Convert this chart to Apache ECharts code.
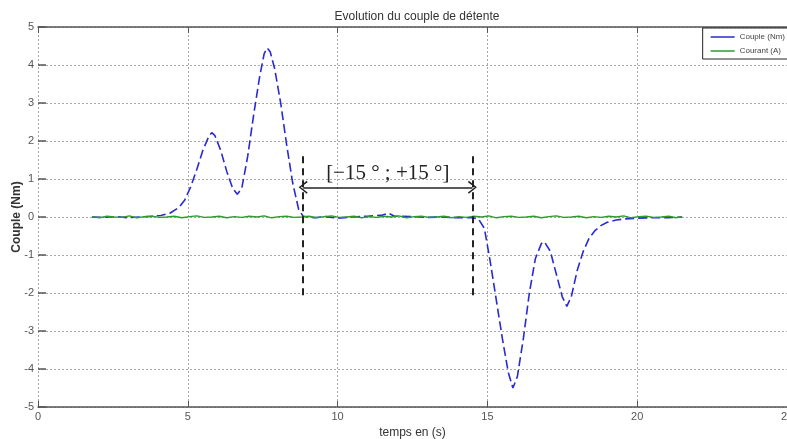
<!DOCTYPE html>
<html lang="fr">
<head>
    <meta charset="UTF-8">
    <title>Evolution du couple de détente</title>
    <script src="https://cdn.jsdelivr.net/npm/echarts@6.0.0/dist/echarts.min.js"></script>
    <style type="text/css">
        html, body { margin: 0; padding: 0; background: #fff; }
        #chart { width: 787px; height: 439px; }
    </style>
</head>
<body>
<div id="chart"></div>
<script type="text/javascript">
    // axes
    var xTicks = [0, 5, 10, 15, 20, 25];
    var yTicks = [-5, -4, -3, -2, -1, 0, 1, 2, 3, 4, 5];

    // couple (Nm)
    var coupleTime = [1.8, 2.2, 2.6, 3.0, 3.4, 3.8, 4.1, 4.4, 4.7, 4.9, 5.1, 5.3, 5.5, 5.7, 5.8, 5.9, 6.1, 6.3, 6.5, 6.65,
        6.8, 7.0, 7.2, 7.4, 7.55, 7.65, 7.75, 7.9, 8.1, 8.3, 8.5, 8.7, 8.85, 9.2, 9.6, 10.0, 10.5, 11.0, 11.5, 11.7,
        11.9, 12.5, 13.0, 13.5, 14.0, 14.5, 14.7, 14.9, 15.1, 15.3, 15.5, 15.7, 15.85, 16.0, 16.2, 16.4, 16.6, 16.8, 16.9, 17.1,
        17.3, 17.5, 17.65, 17.8, 18.0, 18.2, 18.4, 18.6, 18.8, 19.0, 19.3, 19.6, 20.0, 20.5, 21.0, 21.5];
    var coupleValues = [0.00, -0.01, 0.01, -0.02, 0.00, 0.02, 0.04, 0.10, 0.25, 0.45, 0.80, 1.25, 1.75, 2.12, 2.22, 2.15, 1.75, 1.20, 0.75, 0.60,
        0.75, 1.60, 2.70, 3.70, 4.30, 4.45, 4.35, 3.90, 3.00, 1.90, 0.90, 0.20, 0.02, -0.02, 0.01, -0.03, 0.00, 0.02, 0.05, 0.10,
        0.02, 0.01, -0.01, 0.00, -0.02, -0.02, -0.05, -0.30, -1.20, -2.20, -3.20, -4.10, -4.50, -4.20, -3.20, -2.00, -1.10, -0.70, -0.65, -0.90,
        -1.50, -2.10, -2.35, -2.10, -1.40, -0.90, -0.55, -0.35, -0.22, -0.14, -0.08, -0.05, -0.03, -0.02, -0.02, 0.00];

    // courant (A)
    var courantTime = [1.8, 2.05, 2.3, 2.55, 2.8, 3.05, 3.3, 3.55, 3.8, 4.05, 4.3, 4.55, 4.8, 5.05, 5.3, 5.55, 5.8, 6.05, 6.3, 6.55,
        6.8, 7.05, 7.3, 7.55, 7.8, 8.05, 8.3, 8.55, 8.8, 9.05, 9.3, 9.55, 9.8, 10.05, 10.3, 10.55, 10.8, 11.05, 11.3, 11.55,
        11.8, 12.05, 12.3, 12.55, 12.8, 13.05, 13.3, 13.55, 13.8, 14.05, 14.3, 14.55, 14.8, 15.05, 15.3, 15.55, 15.8, 16.05, 16.3, 16.55,
        16.8, 17.05, 17.3, 17.55, 17.8, 18.05, 18.3, 18.55, 18.8, 19.05, 19.3, 19.55, 19.8, 20.05, 20.3, 20.55, 20.8, 21.05, 21.3, 21.5];
    var courantValues = [0.01, -0.02, 0.02, 0.00, -0.01, 0.03, -0.02, 0.01, 0.02, -0.01,
        0.00, 0.02, -0.02, 0.01, 0.03, -0.01, 0.00, 0.02, -0.02, 0.01,
        -0.01, 0.02, 0.00, 0.03, -0.02, 0.01, 0.02, -0.01, 0.00, 0.02,
        -0.02, 0.01, 0.03, -0.01, 0.00, 0.02, -0.02, 0.01, -0.01, 0.02,
        0.00, 0.03, -0.02, 0.01, 0.02, -0.01, 0.00, 0.02, -0.02, 0.01,
        -0.01, 0.02, 0.00, 0.03, -0.02, 0.01, 0.02, -0.01, 0.00, 0.02,
        -0.02, 0.01, 0.03, -0.01, 0.00, 0.02, -0.02, 0.01, -0.01, 0.02,
        0.00, 0.03, -0.02, 0.01, 0.02, -0.01, 0.00, 0.02, -0.02, 0.01];

    // annotation: interval [-15° ; +15°]
    var boundTimes = [8.85, 14.5];
    var boundSpan = [1.6, -2.15];
    var arrowLevel = 0.78;
    var arrowLabel = '[\u221215 \u00b0 ; +15 \u00b0]';

    function pairs(xs, ys) {
        var out = [];
        for (var i = 0; i < xs.length; i++) out.push([xs[i], ys[i]]);
        return out;
    }

    var gridLine = { show: true, lineStyle: { color: '#a8a8a8', width: 1, type: [2, 2] } };
    var chevron = 'path://M5,0 L10,9 L9,10 L5,2.4 L1,10 L0,9 Z';
    var boundStyle = { color: '#222', width: 2, type: [7, 5] };

    var myChart = echarts.init(document.getElementById('chart'));
    var option = {
        animation: false,
        backgroundColor: '#fff',
        textStyle: { fontFamily: 'Liberation Sans, Arial, sans-serif' },
        title: {
            text: 'Evolution du couple de détente',
            left: 412,
            textAlign: 'center',
            top: 6,
            textStyle: { fontSize: 12, fontWeight: 'normal', color: '#333' }
        },
        legend: {
            orient: 'vertical',
            right: -2,
            top: 28,
            icon: 'rect',
            itemWidth: 24,
            itemHeight: 1.5,
            itemGap: 6,
            padding: [5, 4, 4, 8],
            backgroundColor: '#fff',
            borderColor: '#222',
            borderWidth: 1,
            borderRadius: 0,
            textStyle: { fontSize: 8, color: '#444' },
            data: ['Couple (Nm)', 'Courant (A)']
        },
        grid: { left: 38, right: 0, top: 27, bottom: 32, containLabel: false, outerBoundsMode: 'none' },
        xAxis: [{
            type: 'value',
            min: xTicks[0],
            max: xTicks[xTicks.length - 1],
            interval: 5,
            name: 'temps en (s)',
            nameLocation: 'middle',
            nameGap: 17,
            nameTextStyle: { fontSize: 12, color: '#333' },
            axisLine: { show: true, onZero: false, lineStyle: { color: '#555', width: 1.5 } },
            axisTick: { show: true, inside: true, length: 6, lineStyle: { color: '#555' } },
            axisLabel: { fontSize: 11, color: '#555', margin: 4 },
            splitLine: gridLine
        }, {
            type: 'value',
            position: 'top',
            min: xTicks[0],
            max: xTicks[xTicks.length - 1],
            interval: 5,
            axisLine: { show: true, onZero: false, lineStyle: { color: '#555', width: 1.5 } },
            axisTick: { show: true, inside: true, length: 6, lineStyle: { color: '#555' } },
            axisLabel: { show: false },
            splitLine: { show: false }
        }],
        yAxis: {
            type: 'value',
            min: yTicks[0],
            max: yTicks[yTicks.length - 1],
            interval: 1,
            name: 'Couple (Nm)',
            nameLocation: 'middle',
            nameGap: 15,
            nameMoveOverlap: false,
            nameTextStyle: { fontSize: 12, fontWeight: 'bold', color: '#333' },
            axisLine: { show: false, onZero: false },
            axisTick: { show: true, inside: true, length: 8, lineStyle: { color: '#555', width: 1.5 } },
            axisLabel: { fontSize: 11, color: '#555', margin: 4 },
            splitLine: gridLine
        },
        series: [{
            name: 'Couple (Nm)',
            type: 'line',
            showSymbol: false,
            symbol: 'none',
            color: '#2a2ad2',
            lineStyle: { color: '#2a2ad2', width: 1.6, type: [9, 4] },
            data: pairs(coupleTime, coupleValues),
            markLine: {
                silent: true,
                symbol: 'none',
                data: [
                    [{ coord: [boundTimes[0], boundSpan[0]], lineStyle: boundStyle }, { coord: [boundTimes[0], boundSpan[1]] }],
                    [{ coord: [boundTimes[1], boundSpan[0]], lineStyle: boundStyle }, { coord: [boundTimes[1], boundSpan[1]] }],
                    [{
                        coord: [boundTimes[0], arrowLevel],
                        symbol: chevron,
                        symbolSize: [13, 9],
                        lineStyle: { color: '#222', width: 1.5, type: 'solid' },
                        label: {
                            show: true,
                            formatter: arrowLabel,
                            position: 'insideMiddleTop',
                            distance: 3,
                            fontFamily: 'Liberation Serif, DejaVu Serif, serif',
                            fontSize: 21,
                            color: '#222'
                        }
                    }, {
                        coord: [boundTimes[1], arrowLevel],
                        symbol: chevron,
                        symbolSize: [13, 9]
                    }]
                ]
            }
        }, {
            name: 'Courant (A)',
            type: 'line',
            showSymbol: false,
            symbol: 'none',
            color: '#2f9a2f',
            lineStyle: { color: '#2f9a2f', width: 1.3 },
            data: pairs(courantTime, courantValues)
        }]
    };
    myChart.setOption(option);
</script>
</body>
</html>
